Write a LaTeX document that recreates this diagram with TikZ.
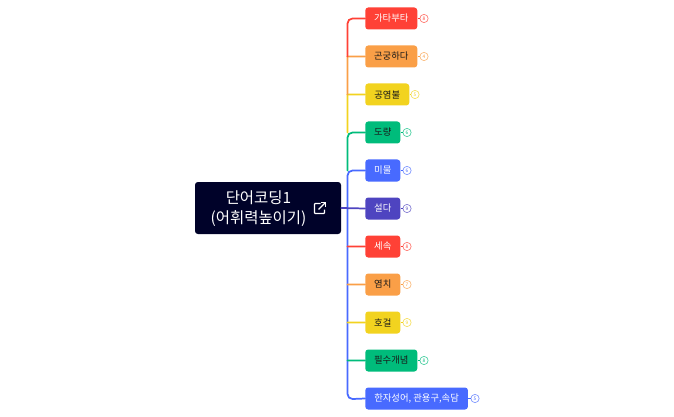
\documentclass[tikz,border=0pt]{standalone}
\usepackage{fontspec}
\setmainfont{Noto Sans CJK KR}
\definecolor{cred}{HTML}{FF4136}
\definecolor{corange}{HTML}{FA9F47}
\definecolor{cyellow}{HTML}{F2D31F}
\definecolor{cgreen}{HTML}{00BC7B}
\definecolor{cblue}{HTML}{486AFF}
\definecolor{cindigo}{HTML}{4E44C0}
\definecolor{cnavy}{HTML}{000229}
\newcommand\softline[3]{\draw[lnk,#1] (#2) .. controls ($(#2)!0.33!(#3)$) and ($(#2)!0.66!(#3)$) .. (#3);}
\usetikzlibrary{calc}
\tikzset{
  px/.style={x=0.75pt,y=-0.75pt},
  topic/.style={rounded corners=2.2pt,minimum height=16.5pt,inner sep=0pt,font=\fontsize{7pt}{8pt}\selectfont,anchor=west},
  lt/.style={topic,text=white},
  dk/.style={topic,text=black!90},
  badge/.style={circle,draw,fill=white,minimum size=6.2pt,inner sep=0pt,line width=0.5pt,font=\fontsize{3.6pt}{3.6pt}\selectfont},
  lnk/.style={line width=1.3pt,line cap=round},
  stub/.style={line width=0.9pt},
}
\begin{document}
\begin{tikzpicture}[px]
\useasboundingbox (0,0) rectangle (674,417);
\node[anchor=center,fill=cnavy,rounded corners=2.2pt,minimum width=109.5pt,minimum height=39pt,inner sep=0pt] (root) at (268,208) {};
\node[text=white,align=center,font=\fontsize{11.6pt}{15pt}\selectfont] (roottext) at (258.5,208.5) {단어코딩1\\(어휘력높이기)};
\coordinate (ic) at (319.5,208.5);
\draw[white,line width=0.9pt,rounded corners=0.6pt] ([shift={(1,-5)}]ic) -- ([shift={(-5,-5)}]ic) -- ([shift={(-5,5)}]ic) -- ([shift={(5,5)}]ic) -- ([shift={(5,1)}]ic);
\draw[white,line width=0.9pt] ([shift={(-1,1)}]ic) -- ([shift={(5.5,-5.5)}]ic);
\draw[white,line width=0.9pt] ([shift={(1.5,-6)}]ic) -- ([shift={(6,-6)}]ic) -- ([shift={(6,-1.5)}]ic);
% nodes
\node[lt,fill=cred,minimum width=39pt] (n1) at (365,18.5) {가타부타};
\node[dk,fill=corange,minimum width=39pt] (n2) at (365,56.5) {곤궁하다};
\node[dk,fill=cyellow,minimum width=33pt] (n3) at (365,94.5) {공염불};
\node[dk,fill=cgreen,minimum width=26.25pt] (n4) at (365,132.5) {도량};
\node[lt,fill=cblue,minimum width=26.25pt] (n5) at (365,170.5) {미물};
\node[lt,fill=cindigo,minimum width=26.25pt] (n6) at (365,208.5) {설다};
\node[lt,fill=cred,minimum width=26.25pt] (n7) at (365,246.5) {세속};
\node[dk,fill=corange,minimum width=26.25pt] (n8) at (365,284.5) {염치};
\node[dk,fill=cyellow,minimum width=26.25pt] (n9) at (365,322.5) {호걸};
\node[dk,fill=cgreen,minimum width=39pt] (n10) at (365,360.5) {필수개념};
\node[lt,fill=cblue,minimum width=77pt] (n11) at (365,398.5) {한자성어, 관용구,속담};
% badges
\node[badge,draw=cred!70,text=cred] (b1) at (424,18.5) {8};
\node[badge,draw=corange!70,text=corange] (b2) at (424,56.5) {4};
\node[badge,draw=cyellow!70,text=cyellow] (b3) at (415,94.5) {5};
\node[badge,draw=cgreen!70,text=cgreen] (b4) at (407,132.5) {6};
\node[badge,draw=cblue!70,text=cblue] (b5) at (407,170.5) {6};
\node[badge,draw=cindigo!70,text=cindigo] (b6) at (407,208.5) {9};
\node[badge,draw=cred!70,text=cred] (b7) at (407,246.5) {8};
\node[badge,draw=corange!70,text=corange] (b8) at (407,284.5) {7};
\node[badge,draw=cyellow!70,text=cyellow] (b9) at (407,322.5) {9};
\node[badge,draw=cgreen!70,text=cgreen] (b10) at (424,360.5) {8};
\node[badge,draw=cblue!70,text=cblue] (b11) at (475,398.5) {5};
\foreach \i/\c in {1/cred,2/corange,3/cyellow,4/cgreen,5/cblue,6/cindigo,7/cred,8/corange,9/cyellow,10/cgreen,11/cblue}{
  \draw[stub,\c] (n\i.east) -- (b\i.west);
}
% trunk junctions
\coordinate (t2) at (347.5,56.5);
\coordinate (t3) at (347.5,94.5);
\coordinate (t4) at (347.5,132.5);
\coordinate (t5) at (347.5,170.5);
\coordinate (t7) at (347.5,246.5);
\coordinate (t8) at (347.5,284.5);
\coordinate (t9) at (347.5,322.5);
\coordinate (t10) at (347.5,360.5);
% connectors
\draw[lnk,cblue] (n5.west) -- (352.5,170.5) arc[start angle=90,end angle=180,radius=3.75pt] -- (347.5,394) arc[start angle=180,end angle=270,radius=3.75pt] -- (n11.west);
\draw[lnk,cgreen] (n4.west) -- (352.5,132.5) arc[start angle=90,end angle=180,radius=3.75pt] -- (t5);
\softline{cyellow}{t3}{t4}
\softline{cyellow}{n3.west}{t3}
\softline{corange}{t2}{t3}
\softline{corange}{n2.west}{t2}
\draw[lnk,cred] (n1.west) -- (352.5,18.5) arc[start angle=90,end angle=180,radius=3.75pt] -- (t2);
\softline{cindigo}{root.east}{n6.west}
\softline{cred}{t7}{n7.west}
\softline{corange}{t8}{n8.west}
\softline{cyellow}{t9}{n9.west}
\softline{cgreen}{t10}{n10.west}
\end{tikzpicture}
\end{document}
